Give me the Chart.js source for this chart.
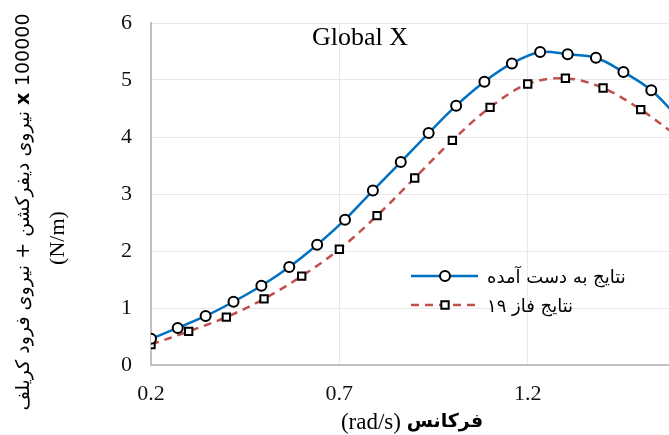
<!DOCTYPE html>
<html>
<head>
<meta charset="utf-8">
<script src="https://cdn.jsdelivr.net/npm/chart.js@4.4.0/dist/chart.umd.min.js"></script>
<style>
  html, body { margin: 0; padding: 0; background: #fff; }
  #wrap { width: 669px; height: 435px; }
</style>
</head>
<body>
<div id="wrap"><canvas id="chart" width="669" height="435"></canvas></div>
<script>
// Chart data
const chartTitle = 'Global X';
const seriesNames = ['نتایج به دست آمده', 'نتایج فاز ۱۹'];

// obtained results (blue, circles)
const obtainedX = [0.2, 0.271, 0.345, 0.419, 0.493, 0.567, 0.641, 0.715, 0.789, 0.863,
                   0.937, 1.010, 1.085, 1.158, 1.233, 1.306, 1.381, 1.454, 1.528, 1.602];
const obtainedY = [0.46, 0.65, 0.86, 1.11, 1.39, 1.72, 2.11, 2.55, 3.06, 3.56,
                   4.07, 4.55, 4.97, 5.29, 5.49, 5.45, 5.39, 5.14, 4.82, 4.32];

// phase 19 results (red dashed, squares)
const phaseX = [0.2, 0.3, 0.4, 0.5, 0.6, 0.7, 0.8, 0.9, 1.0, 1.1, 1.2, 1.3, 1.4, 1.5, 1.6];
const phaseY = [0.36, 0.59, 0.84, 1.16, 1.56, 2.03, 2.62, 3.28, 3.94, 4.52, 4.93, 5.03, 4.86, 4.48, 4.00];

const xTicks = [0.2, 0.7, 1.2];
const yTicks = [0, 1, 2, 3, 4, 5, 6];

const xTitleLatin = '(rad/s)';
const xTitleFa = 'فرکانس';
const yTitleFa = 'نیروی دیفرکشن + نیروی فرود کریلف';
const yTitleMul = 'x';
const yTitleScale = '100000';
const yTitleUnit = '(N/m)';

const BLUE = '#0070C0';
const RED = '#C0504D';
const SERIF = '"Liberation Serif", "Times New Roman", serif';
const SANS = '"DejaVu Sans", sans-serif';

const toPoints = (xs, ys) => xs.map((x, i) => ({ x: x, y: ys[i] }));

// Draws title, legend and axis titles on top of the plot
const annotations = {
  id: 'annotations',
  afterDraw(chart) {
    const ctx = chart.ctx;
    ctx.save();
    ctx.fillStyle = '#000';
    ctx.textBaseline = 'middle';

    // title inside plot
    ctx.font = '26px ' + SERIF;
    ctx.textAlign = 'center';
    ctx.fillText(chartTitle, 360, 38);

    // legend
    const sets = chart.data.datasets;
    const rows = [276, 305];
    sets.forEach((ds, i) => {
      const y = rows[i];
      ctx.save();
      ctx.strokeStyle = ds.borderColor;
      ctx.lineWidth = ds.borderWidth;
      ctx.setLineDash(ds.borderDash || []);
      ctx.beginPath();
      ctx.moveTo(411, y);
      ctx.lineTo(478, y);
      ctx.stroke();
      ctx.setLineDash([]);
      ctx.fillStyle = ds.pointBackgroundColor;
      ctx.strokeStyle = ds.pointBorderColor;
      ctx.lineWidth = ds.pointBorderWidth;
      Chart.helpers.drawPoint(ctx, {
        pointStyle: ds.pointStyle, radius: ds.pointRadius, rotation: 0, borderWidth: ds.pointBorderWidth
      }, 445, y);
      ctx.restore();
      ctx.font = '18px ' + SANS;
      ctx.textAlign = 'left';
      ctx.fillText(seriesNames[i], 487, y + 2);
    });

    // x axis title
    ctx.font = '23px ' + SERIF;
    const w1 = ctx.measureText(xTitleLatin + ' ').width;
    ctx.font = 'bold 19px ' + SANS;
    const w2 = ctx.measureText(xTitleFa).width;
    const xs = 412 - (w1 + w2) / 2;
    ctx.textAlign = 'left';
    ctx.font = '23px ' + SERIF;
    ctx.fillText(xTitleLatin + ' ', xs, 423);
    ctx.font = 'bold 19px ' + SANS;
    ctx.fillText(xTitleFa, xs + w1, 422);

    // y axis title (rotated)
    ctx.save();
    ctx.translate(24, 212);
    ctx.rotate(-Math.PI / 2);
    ctx.font = '19px ' + SANS;
    const a1 = ctx.measureText(yTitleFa + ' ').width;
    ctx.font = 'bold 19px ' + SANS;
    const a2 = ctx.measureText(yTitleMul + ' ').width;
    ctx.font = '19px ' + SANS;
    const a3 = ctx.measureText(yTitleScale).width;
    const p = -(a1 + a2 + a3) / 2;
    ctx.textAlign = 'left';
    ctx.fillText(yTitleFa + ' ', p, 0);
    ctx.font = 'bold 19px ' + SANS;
    ctx.fillText(yTitleMul + ' ', p + a1, 0);
    ctx.font = '19px ' + SANS;
    ctx.fillText(yTitleScale, p + a1 + a2, 0);
    ctx.restore();

    ctx.save();
    ctx.translate(58, 238);
    ctx.rotate(-Math.PI / 2);
    ctx.font = '22px ' + SERIF;
    ctx.textAlign = 'center';
    ctx.fillText(yTitleUnit, 0, 0);
    ctx.restore();

    ctx.restore();
  }
};

new Chart(document.getElementById('chart'), {
  type: 'line',
  data: {
    datasets: [
      {
        label: seriesNames[0],
        data: toPoints(obtainedX, obtainedY),
        borderColor: BLUE,
        borderWidth: 2.5,
        tension: 0.35,
        pointStyle: 'circle',
        pointRadius: 5,
        pointBackgroundColor: '#fff',
        pointBorderColor: '#000',
        pointBorderWidth: 2,
        order: 1
      },
      {
        label: seriesNames[1],
        data: toPoints(phaseX, phaseY),
        borderColor: RED,
        borderWidth: 2.5,
        borderDash: [8, 6],
        tension: 0.35,
        pointStyle: 'rect',
        pointRadius: 5.2,
        pointBackgroundColor: '#fff',
        pointBorderColor: '#000',
        pointBorderWidth: 2,
        order: 2
      }
    ]
  },
  options: {
    responsive: false,
    animation: false,
    devicePixelRatio: 1,
    layout: { autoPadding: false, padding: { top: 23, right: 0, left: 0, bottom: 0 } },
    plugins: {
      legend: { display: false },
      tooltip: { enabled: false },
      title: { display: false }
    },
    scales: {
      x: {
        type: 'linear',
        min: 0.2,
        max: 1.575,
        afterBuildTicks: (scale) => { scale.ticks = xTicks.map(v => ({ value: v })); },
        afterFit: (scale) => { scale.height = 70; scale.paddingLeft = 0; scale.paddingRight = 0; },
        grid: { color: '#e8e8e8', lineWidth: 1, drawTicks: false },
        border: { color: '#c0c0c0', width: 2 },
        ticks: {
          padding: 16,
          color: '#111',
          font: { family: SERIF, size: 22 },
          callback: (v) => v.toFixed(1)
        }
      },
      y: {
        min: 0,
        max: 6,
        afterBuildTicks: (scale) => { scale.ticks = yTicks.map(v => ({ value: v })); },
        afterFit: (scale) => { scale.width = 151; scale.paddingTop = 0; scale.paddingBottom = 0; },
        grid: { color: '#e8e8e8', lineWidth: 1, drawTicks: false },
        border: { color: '#c0c0c0', width: 2 },
        ticks: {
          padding: 19,
          color: '#111',
          font: { family: SERIF, size: 22 }
        }
      }
    }
  },
  plugins: [annotations]
});
</script>
</body>
</html>
